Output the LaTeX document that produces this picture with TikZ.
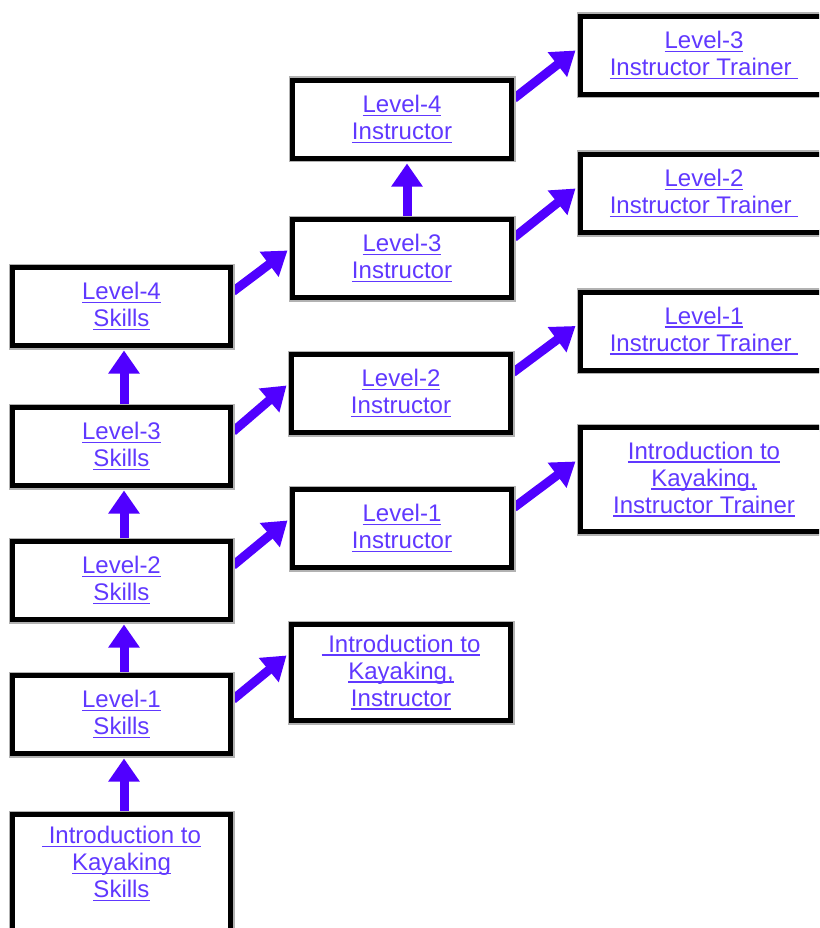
\documentclass[tikz,border=0pt]{standalone}
\usepackage{fontspec}
\setmainfont{Liberation Sans}
\usetikzlibrary{arrows.meta,backgrounds}
\definecolor{linkc}{RGB}{96,56,255}
\definecolor{arrc}{RGB}{80,0,255}
\newcommand\lnk[1]{\setbox0\hbox{#1}\rlap{\color{linkc}\rule[-3.5pt]{\wd0}{1.6pt}}\box0}
\begin{document}
\begin{tikzpicture}[x=1pt,y=-1pt,
  lbl/.style={inner sep=0pt, align=center, text=linkc, font=\fontsize{24}{27}\selectfont},
  box/.style={lbl, draw=black, line width=5pt, fill=white,
    preaction={draw=black!30, line width=8pt}},
  lcol/.style={box, minimum width=218pt, minimum height=78pt},
  mcol/.style={box, minimum width=219pt, minimum height=78pt},
  rcol/.style={box, minimum width=247pt, minimum height=78pt},
  arr/.style={draw=arrc, line width=9pt, -{Triangle[width=30pt,length=23pt]}}]
\useasboundingbox (0,0) rectangle (819,928);
\clip (0,0) rectangle (819,928);
% left column
\node[lcol] (l4s) at (121.5,306.5) {\lnk{Level-4}\\\lnk{Skills}};
\node[lcol] (l3s) at (121.5,446.5) {\lnk{Level-3}\\\lnk{Skills}};
\node[lcol] (l2s) at (121.5,580.5) {\lnk{Level-2}\\\lnk{Skills}};
\node[lcol] (l1s) at (121.5,714.5) {\lnk{Level-1}\\\lnk{Skills}};
\node[lcol, minimum height=125pt] (is) at (121.5,877) {};
\node[lbl] (ist) at (121.5,864) {\lnk{\ Introduction to}\\\lnk{Kayaking}\\\lnk{Skills}};
% middle column
\node[mcol] (l4i) at (402,119.5) {\lnk{Level-4}\\\lnk{Instructor}};
\node[mcol] (l3i) at (402,258.5) {\lnk{Level-3}\\\lnk{Instructor}};
\node[mcol] (l2i) at (401,393.5) {\lnk{Level-2}\\\lnk{Instructor}};
\node[mcol] (l1i) at (402,528.5) {\lnk{Level-1}\\\lnk{Instructor}};
\node[mcol, minimum height=96pt] (ii) at (401,672.5) {\lnk{\ Introduction to}\\\lnk{Kayaking,}\\\lnk{Instructor}};
% right column
\node[rcol] (l3it) at (704,55.5) {\lnk{Level-3}\\\lnk{Instructor Trainer\ }};
\node[rcol] (l2it) at (704,193.5) {\lnk{Level-2}\\\lnk{Instructor Trainer\ }};
\node[rcol] (l1it) at (704,331) {\lnk{Level-1}\\\lnk{Instructor Trainer\ }};
\node[rcol, minimum height=104pt] (iit) at (704,479.5) {\lnk{Introduction to}\\\lnk{Kayaking,}\\\lnk{Instructor Trainer}};
% arrows
\begin{scope}[on background layer]
\fill[white] (0,0) rectangle (819,928);
\draw[arr] ([xshift=2.5pt]is.north) -- ([xshift=2.5pt,yshift=-2.5pt]l1s.south);
\draw[arr] ([xshift=2.5pt]l1s.north) -- ([xshift=2.5pt,yshift=-2.5pt]l2s.south);
\draw[arr] ([xshift=2.5pt]l2s.north) -- ([xshift=2.5pt,yshift=-2.5pt]l3s.south);
\draw[arr] ([xshift=2.5pt]l3s.north) -- ([xshift=2.5pt,yshift=-2.5pt]l4s.south);
\draw[arr] ([xshift=5pt]l3i.north) -- ([xshift=5pt,yshift=-2.5pt]l4i.south);
\draw[arr] ([yshift=-26.5pt]l1s.north east) -- ([xshift=-2.5pt,yshift=-33.5pt]ii.north west);
\draw[arr] ([yshift=-26.5pt]l2s.north east) -- ([xshift=-2.5pt,yshift=-33.5pt]l1i.north west);
\draw[arr] ([yshift=-26.5pt]l3s.north east) -- ([xshift=-2.5pt,yshift=-33.5pt]l2i.north west);
\draw[arr] ([yshift=-26.5pt]l4s.north east) -- ([xshift=-2.5pt,yshift=-33.5pt]l3i.north west);
\draw[arr] ([yshift=-20.5pt]l4i.north east) -- ([xshift=-2.5pt,yshift=-36.5pt]l3it.north west);
\draw[arr] ([yshift=-20.5pt]l3i.north east) -- ([xshift=-2.5pt,yshift=-36.5pt]l2it.north west);
\draw[arr] ([yshift=-20.5pt]l2i.north east) -- ([xshift=-2.5pt,yshift=-36.5pt]l1it.north west);
\draw[arr] ([yshift=-20.5pt]l1i.north east) -- ([xshift=-2.5pt,yshift=-36.5pt]iit.north west);
\end{scope}
\end{tikzpicture}
\end{document}
